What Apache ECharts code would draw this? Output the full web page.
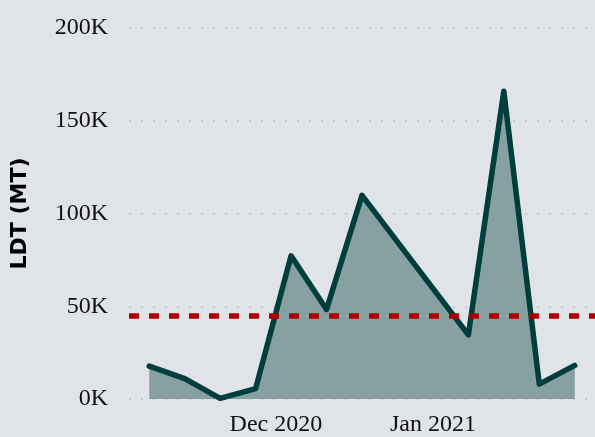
<!DOCTYPE html>
<html>
<head>
<meta charset="utf-8">
<script src="https://cdn.jsdelivr.net/npm/echarts@6/dist/echarts.min.js"></script>
<style>
  html, body { margin: 0; padding: 0; background: #e0e3e7; }
  #chart { width: 595px; height: 437px; }
</style>
</head>
<body>
<div id="chart"></div>
<script>
// weekly LDT, no data for the two holiday weeks (Dec 25, Jan 1)
const weekDates = ['2020-11-06', '2020-11-13', '2020-11-20', '2020-11-27', '2020-12-04', '2020-12-11',
                   '2020-12-18', '2021-01-08', '2021-01-15', '2021-01-22', '2021-01-29'];
const ldtValues = [17700, 11000, 300, 5600, 77200, 48300, 109800, 34600, 165900, 8000, 18100];
const averageLdt = 45000;
const yTicks = [0, 50000, 100000, 150000, 200000];
const xTickLabels = { '2020-12': 'Dec 2020', '2021-01': 'Jan 2021' };

const chart = echarts.init(document.getElementById('chart'));
const DAY = 24 * 3600 * 1000;

const option = {
    backgroundColor: '#e0e3e7',
    animation: false,
    grid: { left: 129, right: 0, top: 28, bottom: 34 },
    xAxis: {
        type: 'time',
        min: '2020-11-02',
        max: '2021-02-02',
        minInterval: 28 * DAY,
        axisLine: { show: false },
        axisTick: { show: false },
        splitLine: { show: false },
        axisLabel: {
            fontFamily: 'Liberation Serif',
            fontSize: 24,
            color: '#111',
            margin: 14,
            hideOverlap: false,
            formatter: function (val) {
                const d = new Date(val);
                const key = d.getFullYear() + '-' + String(d.getMonth() + 1).padStart(2, '0');
                return d.getDate() === 1 ? (xTickLabels[key] || '') : '';
            }
        }
    },
    yAxis: {
        type: 'value',
        min: yTicks[0],
        max: yTicks[yTicks.length - 1],
        interval: yTicks[1] - yTicks[0],
        name: 'LDT (MT)',
        nameLocation: 'middle',
        nameGap: 98,
        nameTextStyle: {
            fontFamily: 'DejaVu Sans',
            fontWeight: 'bold',
            fontSize: 22,
            color: '#000'
        },
        axisLine: { show: false },
        axisTick: { show: false },
        axisLabel: {
            fontFamily: 'Liberation Serif',
            fontSize: 24,
            color: '#111',
            margin: 21,
            formatter: v => (v / 1000) + 'K'
        },
        splitLine: {
            lineStyle: { color: '#c6c9cc', width: 2, type: [2, 10] }
        }
    },
    series: [{
        type: 'line',
        data: weekDates.map((d, i) => [d, ldtValues[i]]),
        symbol: 'none',
        lineStyle: { color: '#003d3d', width: 5.5, join: 'round', cap: 'round' },
        areaStyle: { color: '#87a0a2', opacity: 1 },
        markLine: {
            silent: true,
            symbol: 'none',
            label: { show: false },
            lineStyle: { color: '#aa0000', width: 5.5, type: [10, 10] },
            data: [{ yAxis: averageLdt }]
        },
        z: 2
    }]
};

chart.setOption(option);
</script>
</body>
</html>
